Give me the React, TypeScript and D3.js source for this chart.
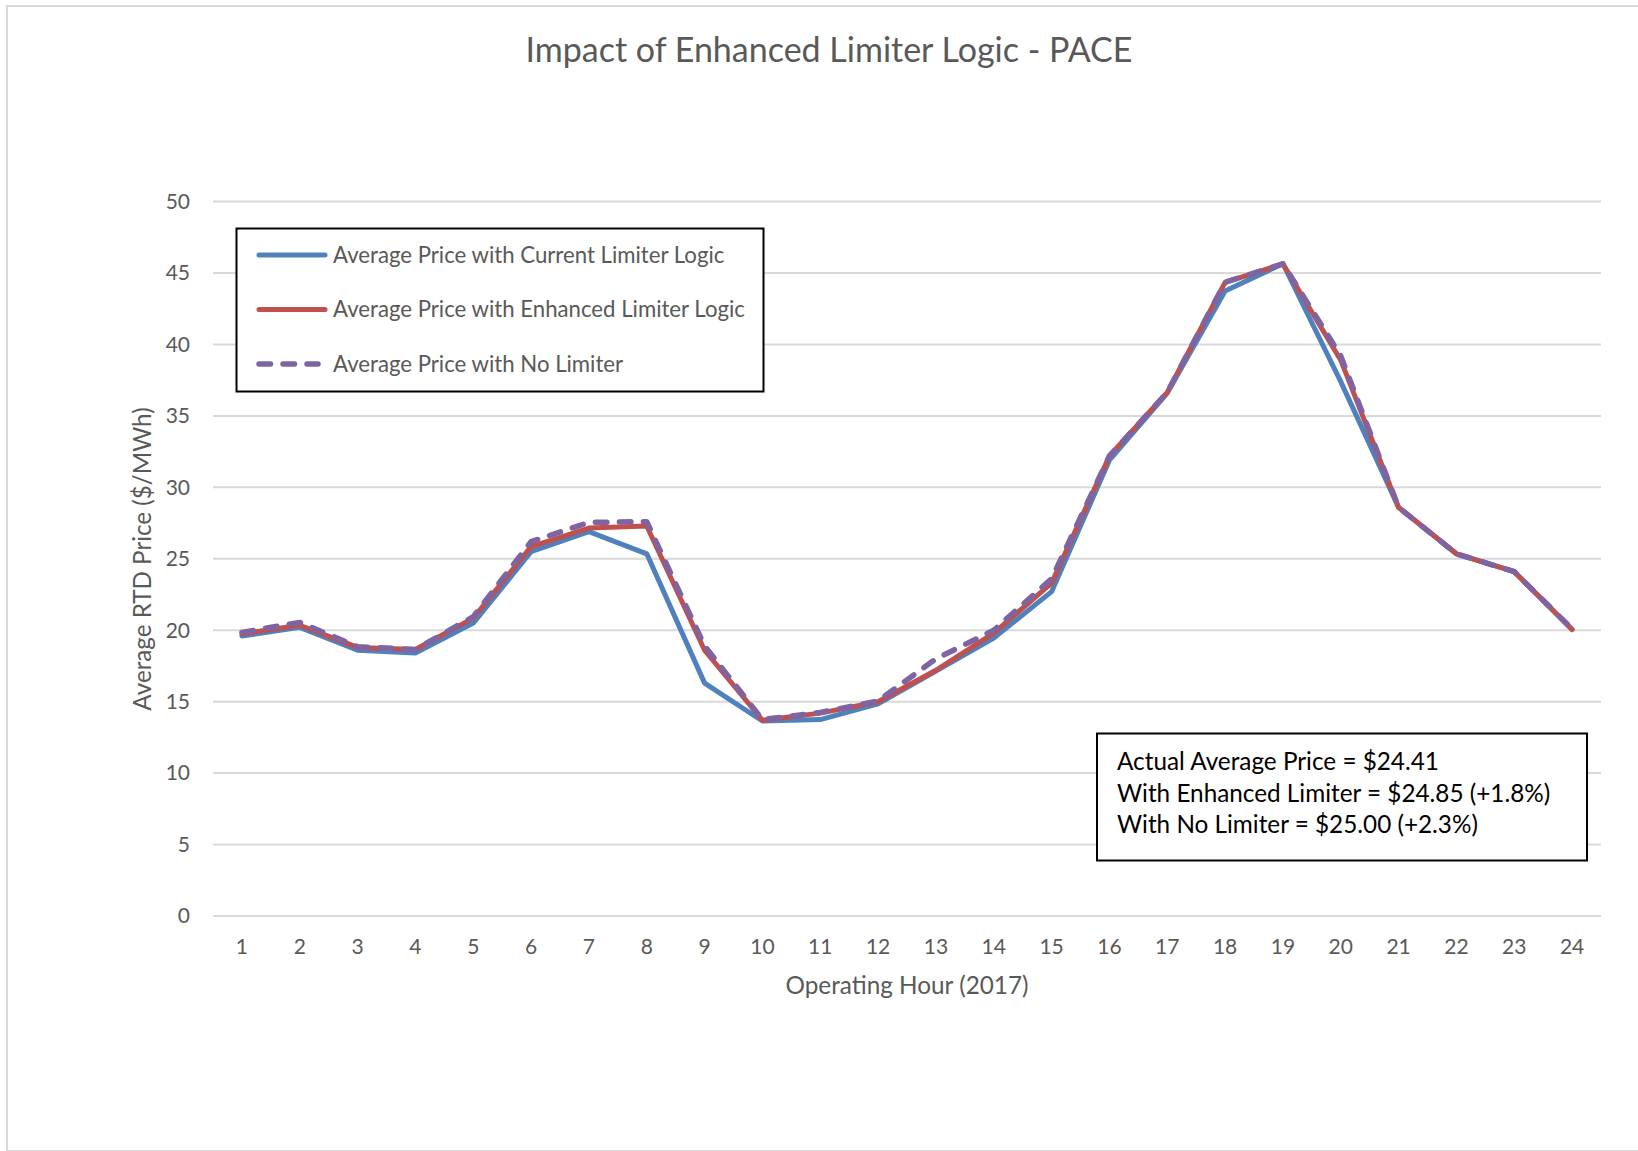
import React from "react";
import * as d3 from "d3";

const hours = ["1","2","3","4","5","6","7","8","9","10","11","12","13","14","15","16","17","18","19","20","21","22","23","24"];
const currentLimiter = [19.6, 20.2, 18.6, 18.4, 20.5, 25.5, 26.9, 25.35, 16.3, 13.65, 13.75, 14.85, 17.15, 19.45, 22.7, 31.9, 36.6, 43.75, 45.65, 37.4, 28.6, 25.35, 24.1, 20.05];
const enhancedLimiter = [19.75, 20.35, 18.8, 18.65, 20.85, 25.85, 27.15, 27.3, 18.6, 13.7, 14.2, 15.0, 17.2, 19.8, 23.3, 32.2, 36.65, 44.35, 45.65, 38.9, 28.6, 25.35, 24.1, 20.05];
const noLimiter = [19.85, 20.55, 18.85, 18.65, 20.95, 26.2, 27.55, 27.6, 18.9, 13.75, 14.25, 15.05, 18.0, 20.0, 23.6, 32.2, 36.65, 44.35, 45.65, 39.2, 28.6, 25.35, 24.1, 20.1];
const yTicks = [0, 5, 10, 15, 20, 25, 30, 35, 40, 45, 50];
const seriesNames = [
  "Average Price with Current Limiter Logic",
  "Average Price with Enhanced Limiter Logic",
  "Average Price with No Limiter",
];
const annotationLines = [
  "Actual Average Price = $24.41",
  "With Enhanced Limiter = $24.85 (+1.8%)",
  "With No Limiter = $25.00 (+2.3%)",
];
const chartTitle = "Impact of Enhanced Limiter Logic - PACE";
const xTitle = "Operating Hour (2017)";
const yTitle = "Average RTD Price ($/MWh)";

const W = 1638;
const H = 1151;
const FONT = "Lato, 'Open Sans', sans-serif";
const TXT = "#595959";
const colors = ["#4F81BD", "#C0504D", "#8064A2"];

export default function App() {
  const x = d3.scaleBand<string>().domain(hours).range([213, 1601]);
  const y = d3.scaleLinear().domain([0, 50]).range([916, 201.6]);
  const cx = (h: string) => (x(h) as number) + x.bandwidth() / 2;
  const line = d3
    .line<number>()
    .x((_, i) => cx(hours[i]))
    .y((d) => y(d));
  const series = [currentLimiter, enhancedLimiter, noLimiter];
  const legendRows = [255, 309.5, 364];

  return (
    <div style={{ position: "absolute", left: 0, top: 0, width: W, height: H, background: "#fff" }}>
      <svg width={W} height={H} style={{ display: "block" }} fontFamily={FONT}>
        <rect x={0} y={0} width={W} height={H} fill="#fff" />
        <rect x={7} y={6} width={W + 10} height={H - 6} fill="none" stroke="#d9d9d9" strokeWidth={2} />
        <text x={829} y={61.5} textAnchor="middle" fontSize={34} fill={TXT}>
          {chartTitle}
        </text>
        {/* gridlines */}
        {yTicks.map((t) => (
          <g key={t}>
            <line x1={213} x2={1601} y1={y(t)} y2={y(t)} stroke="#d9d9d9" strokeWidth={2} />
            <text x={190} y={y(t)} dy="0.35em" textAnchor="end" fontSize={21} fill={TXT}>
              {t}
            </text>
          </g>
        ))}
        {hours.map((h) => (
          <text key={h} x={cx(h)} y={954} textAnchor="middle" fontSize={21} fill={TXT}>
            {h}
          </text>
        ))}
        <text x={907} y={994} textAnchor="middle" fontSize={24.3} fill={TXT}>
          {xTitle}
        </text>
        <text transform="translate(151,559) rotate(-90)" textAnchor="middle" fontSize={24.2} fill={TXT}>
          {yTitle}
        </text>
        {/* series */}
        {series.map((s, i) => (
          <path
            key={i}
            d={line(s) as string}
            fill="none"
            stroke={colors[i]}
            strokeWidth={i === 2 ? 5.5 : 5}
            strokeLinejoin="round"
            strokeLinecap="round"
            strokeDasharray={i === 2 ? "11.5 12.5" : undefined}
          />
        ))}
        {/* legend */}
        <rect x={236.5} y={228.5} width={527} height={163} fill="#fff" stroke="#000" strokeWidth={2} />
        {seriesNames.map((n, i) => (
          <g key={n}>
            <line
              x1={259}
              x2={i === 2 ? 318 : 325}
              y1={legendRows[i]}
              y2={legendRows[i]}
              stroke={colors[i]}
              strokeWidth={i === 2 ? 5.5 : 5}
              strokeLinecap="round"
              strokeDasharray={i === 2 ? "11.5 12.5" : undefined}
            />
            <text x={333} y={legendRows[i]} dy="0.36em" fontSize={22.2} fill={TXT}>
              {n}
            </text>
          </g>
        ))}
        {/* annotation */}
        <rect x={1097} y={733.5} width={490} height={127} fill="#fff" stroke="#000" strokeWidth={2} />
        {annotationLines.map((t, i) => (
          <text key={t} x={1117} y={770 + i * 31.7} fontSize={24.3} fill="#000">
            {t}
          </text>
        ))}
      </svg>
    </div>
  );
}
